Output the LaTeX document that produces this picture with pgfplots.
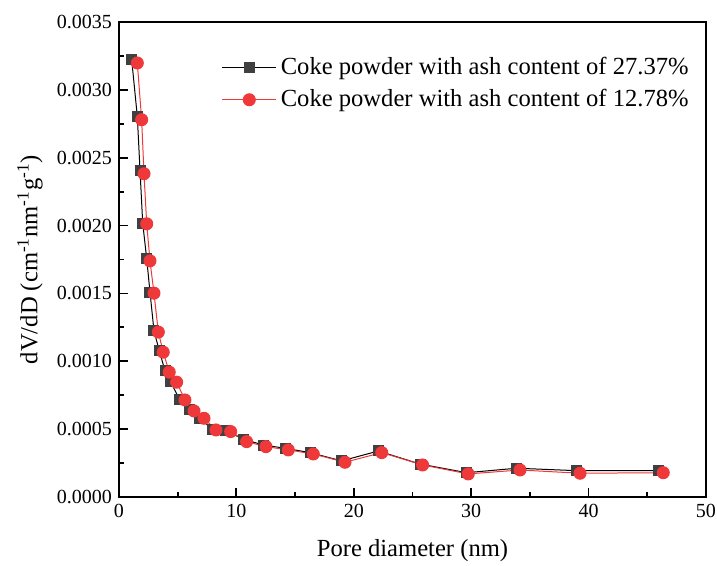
\documentclass[border=0pt]{standalone}
\usepackage{fontspec}
\setmainfont{Liberation Serif}
\usepackage{pgfplots}
\pgfplotsset{compat=1.18}
\definecolor{sqgray}{RGB}{64,64,64}
\definecolor{cred}{RGB}{238,56,58}
\begin{document}
\begin{tikzpicture}
\useasboundingbox (-59.5pt,-34.5pt) rectangle (299pt,248.5pt);
\begin{axis}[
  scale only axis,
  width=293.5pt, height=237.5pt,
  at={(0pt,0pt)}, anchor=south west,
  xmin=0, xmax=50, ymin=0, ymax=0.0035,
  xtick={0,10,20,30,40,50},
  ytick={0,0.0005,0.001,0.0015,0.002,0.0025,0.003,0.0035},
  minor x tick num=1, minor y tick num=1,
  xtick pos=left, ytick pos=left,
  tick align=inside,
  major tick length=4.5pt, minor tick length=2.5pt,
  axis line style={line width=1pt},
  every tick/.style={line width=0.9pt, black},
  scaled y ticks=false,
  yticklabel style={/pgf/number format/.cd, fixed, fixed zerofill, precision=4},
  /pgf/number format/assume math mode=true,
  ticklabel style={font=\fontsize{10}{12}\selectfont},
  xlabel={Pore diameter (nm)},
  ylabel={dV/dD (cm\textsuperscript{-1}nm\textsuperscript{-1}g\textsuperscript{-1})},
  label style={font=\fontsize{12.3}{14}\selectfont},
  xlabel style={at={(axis description cs:0.5,-0.112)}, anchor=center},
  ylabel style={at={(axis description cs:-0.1516,0.5)}, anchor=center},
  legend style={draw=none, fill=none, at={(0.978,0.935)}, anchor=north east,
    font=\fontsize{12.3}{14}\selectfont, row sep=2pt, inner sep=0pt},
  legend cell align=left,
  legend image code/.code={\draw[mark repeat=2,mark phase=2,#1] plot coordinates {(0pt,0pt) (13.5pt,0pt) (27pt,0pt)};},
]
\addplot[black, line width=0.5pt, mark=square*, mark size=2.5pt, mark options={fill=sqgray, draw=sqgray}] coordinates {
(1.08,0.003223) (1.56,0.002805) (1.79,0.002406) (2.02,0.002018) (2.36,0.001755)
(2.64,0.001510) (2.98,0.001224) (3.43,0.001079) (3.92,0.000929) (4.40,0.000850)
(5.14,0.000720) (5.99,0.000642) (6.84,0.000580) (7.98,0.000499) (9.11,0.000489)
(10.59,0.000426) (12.29,0.000383) (14.16,0.000359) (16.27,0.000327) (18.97,0.000266)
(22.09,0.000339) (25.64,0.000243) (29.61,0.000179) (33.88,0.000212) (38.99,0.000194)
(45.94,0.000194)
};
\addlegendentry{Coke powder with ash content of 27.37\%}
\addplot[cred, line width=0.5pt, mark=*, mark size=3pt, mark options={fill=cred, draw=cred}] coordinates {
(1.56,0.003198) (1.93,0.00278) (2.13,0.002382) (2.36,0.002013) (2.64,0.00174)
(2.98,0.001502) (3.35,0.001215) (3.77,0.001067) (4.28,0.000920) (4.91,0.000846)
(5.62,0.000715) (6.39,0.000634) (7.24,0.000580) (8.26,0.000494) (9.51,0.000482)
(10.87,0.000408) (12.52,0.000371) (14.42,0.000347) (16.55,0.000317) (19.25,0.000256)
(22.38,0.000327) (25.86,0.000236) (29.75,0.00017) (34.16,0.000199) (39.27,0.000175)
(46.36,0.000179)
};
\addlegendentry{Coke powder with ash content of 12.78\%}
\end{axis}
\end{tikzpicture}
\end{document}
